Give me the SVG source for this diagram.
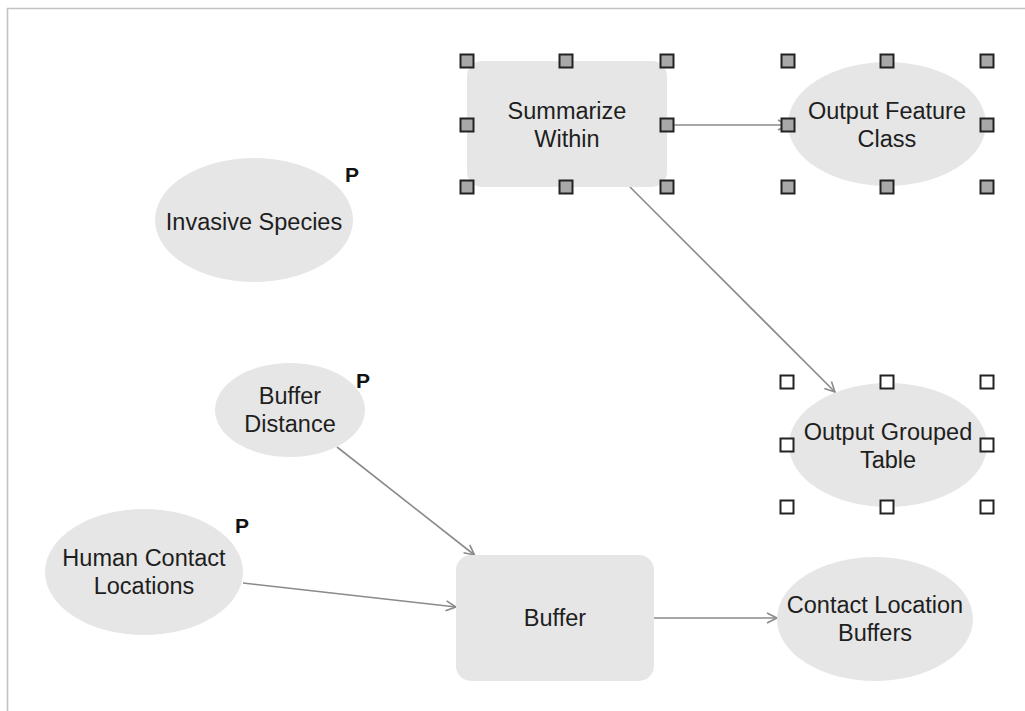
<svg xmlns="http://www.w3.org/2000/svg" width="1025" height="711" viewBox="0 0 1025 711">
<style>
.n{fill:#e6e6e6;stroke:none}
.t{font-family:"Liberation Sans",Arial,sans-serif;font-size:23.5px;fill:#1e1e1e;text-anchor:middle}
.p{font-family:"Liberation Sans",Arial,sans-serif;font-size:21px;font-weight:bold;fill:#111}
.c{stroke:#8a8a8a;stroke-width:1.6;fill:none}
.hg{fill:#a8a8a8;stroke:#222;stroke-width:2}
.hw{fill:#fff;stroke:#222;stroke-width:2}
</style>
<defs>
<marker id="ah" markerUnits="userSpaceOnUse" markerWidth="14" markerHeight="14" refX="11" refY="6" orient="auto">
<path d="M1,1 L11,6 L1,11" fill="none" stroke="#8a8a8a" stroke-width="1.6"/>
</marker>
</defs>
<rect width="1025" height="711" fill="#fff"/>
<path d="M7.5,711 V8.5 H1025" fill="none" stroke="#c2c2c2" stroke-width="1.6"/>
<g id="connectors">
<line class="c" x1="667" y1="125" x2="788" y2="125" marker-end="url(#ah)"/>
<line class="c" x1="630" y1="187" x2="835" y2="392" marker-end="url(#ah)"/>
<line class="c" x1="337" y1="447" x2="474.5" y2="555" marker-end="url(#ah)"/>
<line class="c" x1="243" y1="583" x2="456" y2="607" marker-end="url(#ah)"/>
<line class="c" x1="654" y1="618" x2="777" y2="618" marker-end="url(#ah)"/>
</g>
<g id="summarize-within">
<rect class="n" x="467" y="61" width="200" height="126" rx="15"/>
<text class="t" x="567" y="119">Summarize</text>
<text class="t" x="567" y="147">Within</text>
</g>
<g id="output-feature-class">
<ellipse class="n" cx="887" cy="124" rx="99" ry="62"/>
<text class="t" x="887" y="119">Output Feature</text>
<text class="t" x="887" y="147">Class</text>
</g>
<g id="invasive-species">
<ellipse class="n" cx="254" cy="220" rx="99" ry="62"/>
<text class="t" x="254" y="230">Invasive Species</text>
<text class="p" x="345" y="182">P</text>
</g>
<g id="output-grouped-table">
<ellipse class="n" cx="888" cy="445" rx="99" ry="62"/>
<text class="t" x="888" y="440">Output Grouped</text>
<text class="t" x="888" y="468">Table</text>
</g>
<g id="buffer-distance">
<ellipse class="n" cx="290" cy="410" rx="75" ry="47"/>
<text class="t" x="290" y="404">Buffer</text>
<text class="t" x="290" y="432">Distance</text>
<text class="p" x="356" y="388">P</text>
</g>
<g id="human-contact-locations">
<ellipse class="n" cx="144" cy="572" rx="99" ry="63"/>
<text class="t" x="144" y="566">Human Contact</text>
<text class="t" x="144" y="594">Locations</text>
<text class="p" x="235" y="533">P</text>
</g>
<g id="buffer">
<rect class="n" x="456" y="555" width="198" height="126" rx="15"/>
<text class="t" x="555" y="626">Buffer</text>
</g>
<g id="contact-location-buffers">
<ellipse class="n" cx="875" cy="619" rx="98" ry="62"/>
<text class="t" x="875" y="613">Contact Location</text>
<text class="t" x="875" y="641">Buffers</text>
</g>
<g id="selection-handles">
<rect class="hg" x="460.5" y="54.5" width="13" height="13"/>
<rect class="hg" x="559.5" y="54.5" width="13" height="13"/>
<rect class="hg" x="660.5" y="54.5" width="13" height="13"/>
<rect class="hg" x="460.5" y="118.5" width="13" height="13"/>
<rect class="hg" x="660.5" y="118.5" width="13" height="13"/>
<rect class="hg" x="460.5" y="180.5" width="13" height="13"/>
<rect class="hg" x="559.5" y="180.5" width="13" height="13"/>
<rect class="hg" x="660.5" y="180.5" width="13" height="13"/>
<rect class="hg" x="781.5" y="54.5" width="13" height="13"/>
<rect class="hg" x="880.5" y="54.5" width="13" height="13"/>
<rect class="hg" x="980.5" y="54.5" width="13" height="13"/>
<rect class="hg" x="781.5" y="118.5" width="13" height="13"/>
<rect class="hg" x="980.5" y="118.5" width="13" height="13"/>
<rect class="hg" x="781.5" y="180.5" width="13" height="13"/>
<rect class="hg" x="880.5" y="180.5" width="13" height="13"/>
<rect class="hg" x="980.5" y="180.5" width="13" height="13"/>
<rect class="hw" x="780.5" y="375.5" width="13" height="13"/>
<rect class="hw" x="880.5" y="375.5" width="13" height="13"/>
<rect class="hw" x="980.5" y="375.5" width="13" height="13"/>
<rect class="hw" x="780.5" y="438.5" width="13" height="13"/>
<rect class="hw" x="980.5" y="438.5" width="13" height="13"/>
<rect class="hw" x="780.5" y="500.5" width="13" height="13"/>
<rect class="hw" x="880.5" y="500.5" width="13" height="13"/>
<rect class="hw" x="980.5" y="500.5" width="13" height="13"/>
</g>
</svg>
